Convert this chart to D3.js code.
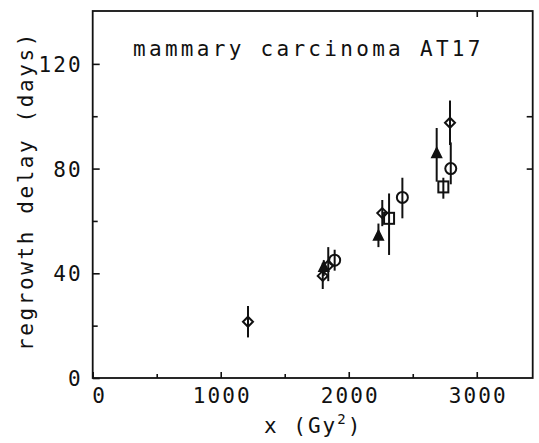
<!DOCTYPE html>
<html>
<head>
<meta charset="utf-8">
<script src="https://cdn.jsdelivr.net/npm/d3@7"></script>
<style>
  html, body { margin: 0; padding: 0; background: #fff; }
  svg text { font-family: "DejaVu Sans Mono", "Liberation Mono", monospace; fill: #111; }
</style>
</head>
<body>
<svg id="chart" width="539" height="443"></svg>
<script>
// Regrowth delay vs. x for mammary carcinoma AT17
// each point: [x (Gy^2), delay (days), bar low, bar high]
const diamonds = [
  [1213, 21.5, 15.5, 27.5],
  [1797, 39, 34, 44],
  [1840, 43, 37, 50],
  [2262, 63, 58, 68],
  [2791, 97.5, 89, 106]
];
const triangles = [
  [1805, 42, 39, 45],
  [2232, 54, 50, 59],
  [2687, 85.5, 75, 95.5]
];
const circles = [
  [1890, 45, 41, 49],
  [2419, 69, 61, 76.5],
  [2797, 80, 74, 90]
];
const squares = [
  [2315, 61, 47, 70.5],
  [2739, 73, 68.5, 76.5]
];

const xTicks = [0, 1000, 2000, 3000];
const xMinor = [500, 1500, 2500];
const yTicks = [0, 40, 80, 120];
const yMinor = [20, 60, 100];
const rightTicks = [80, 100];
const topTicks = [3000];

const titleText = "mammary carcinoma AT17";
const yTitle = "regrowth delay (days)";

const svg = d3.select("#chart");
const m = { left: 92.7, right: 532.7, top: 11, bottom: 378 };

const x = d3.scaleLinear().domain([0, 3437]).range([m.left, m.right]);
const y = d3.scaleLinear().domain([0, 140.2]).range([m.bottom, m.top]);

const ink = "#111";
const fs = 21;

// frame
svg.append("rect")
  .attr("x", m.left).attr("y", m.top)
  .attr("width", m.right - m.left).attr("height", m.bottom - m.top)
  .attr("fill", "none").attr("stroke", ink).attr("stroke-width", 1.8);

// bottom axis with inward ticks
const bottomAxis = svg.append("g").attr("transform", `translate(0,${m.bottom})`)
  .call(d3.axisBottom(x).tickValues(xTicks).tickSize(-6).tickPadding(10)
    .tickFormat(d3.format("d")));
bottomAxis.select(".domain").remove();
bottomAxis.selectAll("line").attr("stroke", ink).attr("stroke-width", 1.6);
bottomAxis.selectAll("text").attr("font-size", fs).attr("letter-spacing", 2.1)
  .attr("dy", "0.71em").attr("dx", d => d === 0 ? 6.5 : 1);

svg.append("g").attr("transform", `translate(0,${m.bottom})`)
  .call(d3.axisBottom(x).tickValues(xMinor).tickSize(-4).tickFormat(""))
  .call(g => g.select(".domain").remove())
  .selectAll("line").attr("stroke", ink).attr("stroke-width", 1.6);

// left axis with inward ticks
const leftAxis = svg.append("g").attr("transform", `translate(${m.left},0)`)
  .call(d3.axisLeft(y).tickValues(yTicks).tickSize(-7).tickPadding(10)
    .tickFormat(d3.format("d")));
leftAxis.select(".domain").remove();
leftAxis.selectAll("line").attr("stroke", ink).attr("stroke-width", 1.6);
leftAxis.selectAll("text").attr("font-size", fs).attr("letter-spacing", 2.1)
  .attr("dy", "0.36em");

svg.append("g").attr("transform", `translate(${m.left},0)`)
  .call(d3.axisLeft(y).tickValues(yMinor).tickSize(-5).tickFormat(""))
  .call(g => g.select(".domain").remove())
  .selectAll("line").attr("stroke", ink).attr("stroke-width", 1.6);

// right and top inward ticks
svg.append("g").attr("transform", `translate(${m.right},0)`)
  .call(d3.axisRight(y).tickValues(rightTicks).tickSize(-6).tickFormat(""))
  .call(g => g.select(".domain").remove())
  .selectAll("line").attr("stroke", ink).attr("stroke-width", 1.6);

svg.append("g").attr("transform", `translate(0,${m.top})`)
  .call(d3.axisTop(x).tickValues(topTicks).tickSize(-6).tickFormat(""))
  .call(g => g.select(".domain").remove())
  .selectAll("line").attr("stroke", ink).attr("stroke-width", 1.6);

// error bars
const allPts = [].concat(diamonds, triangles, circles, squares);
svg.append("g").selectAll("line").data(allPts).join("line")
  .attr("x1", d => x(d[0])).attr("x2", d => x(d[0]))
  .attr("y1", d => y(d[2])).attr("y2", d => y(d[3]))
  .attr("stroke", ink).attr("stroke-width", 2);

// markers
const marks = svg.append("g").attr("fill", "none").attr("stroke", ink).attr("stroke-width", 2);

marks.selectAll(".dia").data(diamonds).join("path")
  .attr("class", "dia")
  .attr("d", d => {
    const cx = x(d[0]), cy = y(d[1]), r = 5;
    return `M${cx},${cy - r}L${cx + r},${cy}L${cx},${cy + r}L${cx - r},${cy}Z`;
  });

marks.selectAll(".tri").data(triangles).join("path")
  .attr("class", "tri")
  .attr("fill", ink)
  .attr("d", d => {
    const cx = x(d[0]), cy = y(d[1]);
    return `M${cx},${cy - 6}L${cx + 4.5},${cy + 3}L${cx - 4.5},${cy + 3}Z`;
  });

marks.selectAll(".cir").data(circles).join("circle")
  .attr("class", "cir")
  .attr("cx", d => x(d[0])).attr("cy", d => y(d[1])).attr("r", 5.5);

marks.selectAll(".sq").data(squares).join("rect")
  .attr("class", "sq")
  .attr("x", d => x(d[0]) - 5).attr("y", d => y(d[1]) - 5.5)
  .attr("width", 10).attr("height", 11);

// title inside plot
svg.append("text")
  .attr("x", 133).attr("y", 56)
  .attr("font-size", fs).attr("letter-spacing", 3.3)
  .text(titleText);

// axis titles
svg.append("text")
  .attr("transform", "translate(33,191) rotate(-90)")
  .attr("text-anchor", "middle")
  .attr("font-size", fs).attr("letter-spacing", 2.6)
  .text(yTitle);

const xt = svg.append("text")
  .attr("x", 264).attr("y", 433)
  .attr("font-size", fs).attr("letter-spacing", 2);
xt.append("tspan").text("x  (Gy");
xt.append("tspan").attr("font-size", 14).attr("dy", -9).text("2");
xt.append("tspan").attr("dy", 9).text(")");
</script>
</body>
</html>
